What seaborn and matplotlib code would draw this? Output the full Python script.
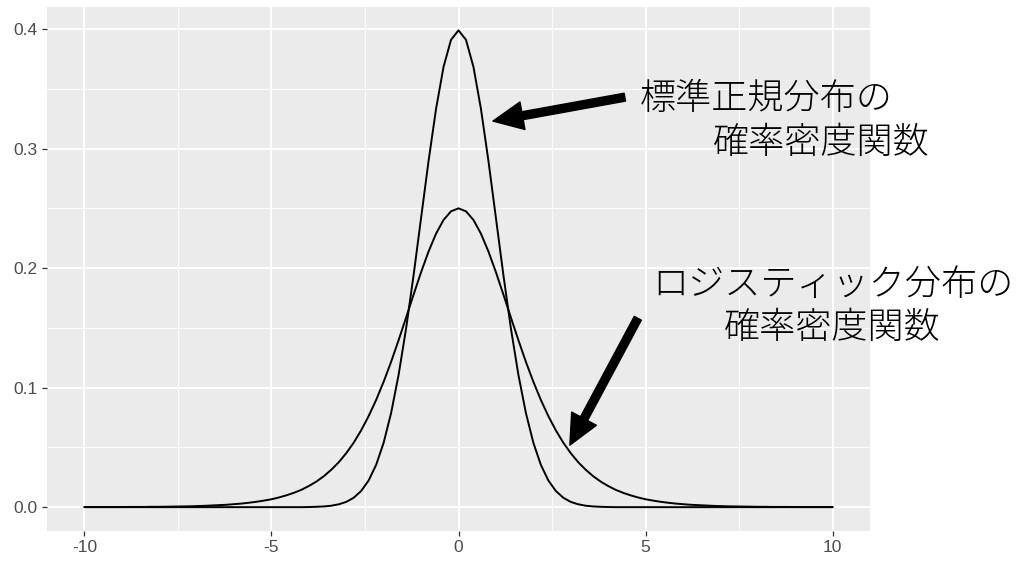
import matplotlib
matplotlib.use("Agg")
import matplotlib.pyplot as plt
import seaborn as sns
import numpy as np
import pandas as pd

# x grid (step 0.2, -10..10)
x_vals = [round(-10 + 0.2 * i, 1) for i in range(101)]

# standard normal density read at each x (right half, 0..10)
normal_half = [0.3989, 0.3910, 0.3683, 0.3332, 0.2897, 0.2420, 0.1942, 0.1497,
               0.1109, 0.0790, 0.0540, 0.0355, 0.0224, 0.0136, 0.0079, 0.0044,
               0.0024, 0.0012, 0.0006, 0.0003, 0.0001] + [0.0] * 30
# logistic density read at each x (right half, 0..10)
logistic_half = [0.2500, 0.2475, 0.2403, 0.2288, 0.2139, 0.1966, 0.1779, 0.1587,
                 0.1398, 0.1217, 0.1050, 0.0898, 0.0763, 0.0644, 0.0540, 0.0452,
                 0.0376, 0.0313, 0.0259, 0.0214, 0.0177, 0.0145, 0.0120, 0.0099,
                 0.0081, 0.0066, 0.0055, 0.0045, 0.0037, 0.0030, 0.0025, 0.0020,
                 0.0017, 0.0014, 0.0011, 0.0009, 0.0007, 0.0006, 0.0005, 0.0004,
                 0.0003, 0.0003, 0.0002, 0.0002, 0.0002, 0.0001, 0.0001, 0.0001,
                 0.0001, 0.0001, 0.0001]
normal_vals = normal_half[:0:-1] + normal_half
logistic_vals = logistic_half[:0:-1] + logistic_half

x_ticks = [-10, -5, 0, 5, 10]
x_tick_labels = ["-10", "-5", "0", "5", "10"]
y_ticks = [0.0, 0.1, 0.2, 0.3, 0.4]
y_tick_labels = ["0.0", "0.1", "0.2", "0.3", "0.4"]

label_normal = ["標準正規分布の", "確率密度関数"]
label_logistic = ["ロジスティック分布の", "確率密度関数"]

df = pd.DataFrame({
    "x": x_vals * 2,
    "y": normal_vals + logistic_vals,
    "dist": ["normal"] * len(x_vals) + ["logistic"] * len(x_vals),
})

sns.set_theme(style="darkgrid")
plt.rcParams["font.family"] = ["Liberation Sans", "DejaVu Sans"]

fig = plt.figure(figsize=(10.24, 5.66), dpi=100)
ax = fig.add_axes([47 / 1024, 1 - 531 / 566, (870 - 47) / 1024, (531 - 6.5) / 566])
ax.set_facecolor("#EBEBEB")

sns.lineplot(data=df, x="x", y="y", hue="dist", palette=["black", "black"],
             legend=False, ax=ax, linewidth=1.4, estimator=None, sort=False)

ax.set_xlim(-11, 11)
ax.set_ylim(-0.01995, 0.3989 + 0.01995)
ax.set_xticks(x_ticks)
ax.set_xticklabels(x_tick_labels)
ax.set_yticks(y_ticks)
ax.set_yticklabels(y_tick_labels)
ax.set_xticks([-7.5, -2.5, 2.5, 7.5], minor=True)
ax.set_yticks([0.05, 0.15, 0.25, 0.35], minor=True)
ax.grid(which="major", color="white", linewidth=1.3)
ax.grid(which="minor", color="white", linewidth=0.6)
ax.set_axisbelow(True)
for s in ax.spines.values():
    s.set_visible(False)
ax.tick_params(which="major", length=3.8, width=0.9, color="#333333",
               labelcolor="#4D4D4D", labelsize=12.5, pad=3, bottom=True, left=True)
ax.tick_params(which="minor", length=0)
ax.set_xlabel("")
ax.set_ylabel("")

cjk = ["Noto Sans CJK JP", "DejaVu Sans"]
tkw = dict(family=cjk, fontsize=26, fontweight="light", color="black", va="center")
ax.text(4.846, 0.3414, label_normal[0], ha="left", **tkw)
ax.text(6.796, 0.3046, label_normal[1], ha="left", **tkw)
ax.text(10.0, 0.1858, label_logistic[0], ha="center", **tkw)
ax.text(10.0, 0.1498, label_logistic[1], ha="center", **tkw)

arrow_style = "simple,head_length=1.5,head_width=1.4,tail_width=0.4"
ax.annotate("", xy=(0.921, 0.323), xytext=(4.446, 0.343),
            arrowprops=dict(arrowstyle=arrow_style, color="black", mutation_scale=14.4,
                            shrinkA=0, shrinkB=0))
ax.annotate("", xy=(2.977, 0.0519), xytext=(4.793, 0.158),
            arrowprops=dict(arrowstyle=arrow_style, color="black", mutation_scale=14.4,
                            shrinkA=0, shrinkB=0))

fig.savefig("out.png", dpi=100)
